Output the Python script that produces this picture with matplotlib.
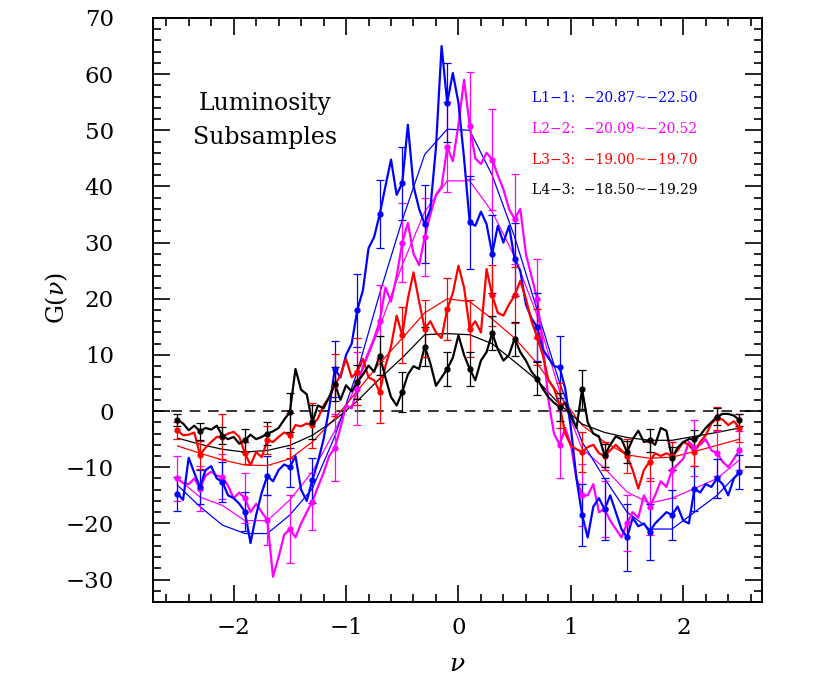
import numpy as np
import matplotlib
matplotlib.use("Agg")
import matplotlib.pyplot as plt
from matplotlib.ticker import MultipleLocator

plt.rcParams["font.family"] = ["DejaVu Serif"]
plt.rcParams["mathtext.fontset"] = "dejavuserif"

# genus thresholds (regular nu grid of the measurement) and error-bar grid
nu = np.round(np.arange(-2.50, 2.501, 0.05), 2)
nu_bar = np.round(np.arange(-2.50, 2.501, 0.20), 2)

g_l1 = [-14.7, -15.8, -8.3, -11.0, -13.5, -10.5, -9.8, -12.0, -12.6, -15.0,
        -15.5, -16.5, -17.9, -23.5, -18.5, -14.5, -11.5, -12.5, -10.5, -9.5,
        -10.0, -8.0, -14.0, -16.0, -12.3, -9.0, -5.0, 0.5, 7.5, 6.0,
        10.0, 12.0, 18.0, 21.5, 29.0, 31.0, 35.1, 40.0, 44.8, 38.5,
        40.6, 51.0, 40.1, 36.0, 33.3, 36.0, 47.0, 65.0, 54.9, 60.2,
        54.9, 45.0, 33.6, 33.0, 35.5, 33.3, 28.0, 33.0, 30.0, 33.0,
        27.0, 25.0, 19.0, 16.5, 15.0, 11.0, 9.5, 8.0, 7.8, 4.0,
        -3.0, -12.0, -18.5, -22.5, -17.0, -15.5, -17.5, -15.0, -18.0, -21.0,
        -22.5, -19.0, -20.5, -20.0, -21.5, -20.0, -19.0, -18.0, -18.5, -17.0,
        -19.5, -20.0, -13.8, -14.5, -13.0, -13.5, -12.0, -13.0, -15.0, -12.0,
        -10.9]
g_l2 = [-12.0, -12.8, -13.0, -12.0, -13.8, -11.5, -10.8, -11.5, -11.7, -13.3,
        -15.5, -14.5, -15.5, -18.0, -16.5, -18.0, -19.4, -29.5, -26.0, -22.0,
        -21.0, -22.5, -20.0, -18.0, -16.1, -13.5, -11.0, -8.0, -6.5, -3.0,
        1.0, 0.5, 4.0, 8.0, 10.5, 13.0, 16.0, 22.0, 19.5, 24.0,
        30.0, 33.5, 28.0, 26.0, 31.0, 35.0, 38.5, 40.0, 47.0, 44.5,
        51.0, 59.0, 50.8, 45.0, 44.0, 46.0, 44.8, 42.0, 39.5, 36.0,
        34.2, 36.0, 28.0, 24.0, 20.0, 12.0, 2.0, -4.0, -6.0, -3.0,
        -6.0, -12.0, -15.0, -15.0, -13.0, -18.0, -17.5, -19.5, -21.0, -22.5,
        -20.0, -18.0, -19.0, -15.0, -17.0, -15.0, -12.5, -13.5, -10.5, -9.5,
        -8.5, -5.5, -6.5, -6.0, -5.0, -7.0, -7.5, -9.0, -10.0, -8.5,
        -7.0]
g_l3 = [-3.4, -4.3, -4.2, -3.8, -7.8, -6.5, -5.5, -4.6, -4.6, -4.0,
        -3.7, -4.6, -7.5, -9.6, -7.3, -8.2, -5.2, -5.5, -4.6, -3.8,
        -4.3, -2.5, -2.7, -2.2, -2.5, -1.3, 1.0, 2.5, 4.6, 6.4,
        9.3, 6.0, 7.0, 9.3, 6.0, 5.5, 3.4, 8.0, 11.5, 17.0,
        13.5, 20.0, 24.7, 19.5, 14.7, 16.0, 14.0, 13.0, 18.2, 21.0,
        25.9, 22.0, 14.7, 16.0, 14.0, 25.3, 20.6, 17.5, 17.0, 19.0,
        20.6, 23.2, 20.0, 16.0, 13.2, 10.0, 5.5, 4.0, 1.0, -4.0,
        -6.1, -6.8, -7.3, -6.4, -6.0, -7.5, -8.0, -7.0, -6.0, -7.0,
        -8.0, -10.5, -13.8, -10.5, -9.0, -7.5, -8.0, -7.5, -8.0, -7.0,
        -5.5, -6.0, -7.3, -5.5, -4.3, -2.2, -1.3, -1.5, -2.5, -1.8,
        -3.0]
g_l4 = [-1.6, -2.2, -3.4, -2.6, -3.6, -3.0, -3.3, -2.6, -4.4, -5.0,
        -4.6, -5.8, -5.2, -4.2, -5.0, -4.6, -4.0, -3.6, -3.0, -1.5,
        -0.2, 7.5, 3.8, 3.0, -2.0, 1.0, 0.5, 2.5, 4.8, 2.0,
        4.6, 3.5, 5.2, 6.5, 8.1, 7.0, 9.9, 6.0, 2.5, 1.0,
        3.4, 6.5, 8.0, 7.5, 11.5, 8.5, 4.5, 6.0, 7.5, 9.5,
        13.5, 10.0, 7.5, 5.5, 9.0, 10.5, 13.9, 11.0, 9.0, 10.0,
        12.9, 10.5, 9.0, 7.0, 5.8, 4.0, 2.5, 1.5, 0.7, 1.5,
        -1.0, -3.0, 3.9, -2.0, -4.0, -4.5, -7.9, -6.0, -4.5, -5.0,
        -7.3, -5.0, -3.5, -5.5, -5.2, -6.0, -3.0, -3.5, -8.4, -6.5,
        -5.5, -5.0, -4.9, -4.3, -3.0, -2.0, -1.0, -0.5, -0.5, -0.8,
        -1.6]

err_l1 = [3.0, 3.0, 3.5, 3.5, 3.5, 3.5, 4.0, 5.0, 6.5, 6.0, 6.5, 7.0, 7.0,
          8.3, 7.0, 6.5, 6.0, 5.5, 5.5, 5.5, 6.0, 5.0, 4.5, 4.0, 3.5, 3.0]
err_l2 = [4.0, 4.0, 4.0, 4.5, 4.5, 6.0, 5.0, 6.0, 6.5, 6.5, 7.0, 7.0, 8.0,
          9.5, 9.0, 8.0, 7.0, 6.0, 5.5, 5.0, 5.0, 5.0, 5.0, 5.0, 4.0, 3.5]
err_l3 = [1.5, 2.5, 4.0, 2.0, 2.5, 4.0, 4.0, 5.5, 6.0, 5.5, 5.0, 5.0, 5.5,
          5.0, 5.5, 5.0, 5.0, 4.0, 3.5, 2.5, 3.0, 3.5, 2.5, 2.5, 2.0, 2.5]
err_l4 = [1.0, 1.5, 1.5, 2.0, 2.0, 3.5, 3.0, 3.0, 3.0, 3.5, 3.5, 3.5, 3.0,
          3.0, 3.0, 3.0, 3.0, 2.5, 3.5, 2.0, 2.0, 2.0, 2.0, 1.5, 1.5, 1.0]

# fitted Gaussian genus curves, read at the error-bar grid
fit_l1 = [-13.2, -17.0, -20.3, -21.8, -21.8, -18.5, -13.8, -4.5, 7.0, 21.0,
          34.0, 45.7, 50.2, 50.0, 42.0, 31.0, 18.0, 5.0, -5.5, -12.0,
          -18.0, -21.0, -21.0, -18.0, -15.0, -10.8]
fit_l2 = [-12.0, -15.3, -16.8, -19.5, -19.5, -15.8, -10.8, -3.5, 5.0, 15.0,
          26.0, 35.5, 41.0, 41.0, 35.5, 27.5, 17.0, 3.5, -6.7, -10.2,
          -14.4, -16.4, -15.5, -13.8, -12.0, -8.7]
fit_l3 = [-6.2, -7.5, -8.7, -9.6, -9.7, -8.5, -5.5, -1.3, 3.6, 8.5,
          13.0, 17.5, 20.0, 19.5, 16.4, 13.0, 8.5, 2.8, -2.5, -5.5,
          -7.8, -8.4, -8.2, -7.2, -6.1, -5.0]
fit_l4 = [-4.8, -5.9, -6.8, -7.3, -7.0, -6.1, -4.3, -1.6, 1.8, 5.8,
          9.5, 13.6, 13.8, 13.6, 12.0, 8.8, 5.5, 1.2, -2.3, -3.8,
          -4.7, -5.2, -5.2, -4.5, -3.8, -3.0]

labels = ["L1\u22121:  \u221220.87~\u221222.50",
          "L2\u22122:  \u221220.09~\u221220.52",
          "L3\u22123:  \u221219.00~\u221219.70",
          "L4\u22123:  \u221218.50~\u221219.29"]
colors = ["#0000ff", "#ff00ff", "#ff0000", "#000000"]

fig = plt.figure(figsize=(8.30, 6.92), dpi=100)
ax = fig.add_axes([0.184, 0.130, 0.734, 0.844])

series = [(g_l2, err_l2, fit_l2, colors[1]),
          (g_l1, err_l1, fit_l1, colors[0]),
          (g_l3, err_l3, fit_l3, colors[2]),
          (g_l4, err_l4, fit_l4, colors[3])]

ax.axhline(0, color="black", lw=1.1, ls=(0, (7, 5)), zorder=1)

for g, err, fit, c in series:
    g = np.asarray(g)
    idx = [int(round((v - nu[0]) / 0.05)) for v in nu_bar]
    ax.plot(nu, g, color=c, lw=1.6, zorder=3)
    ax.errorbar(nu_bar, g[idx], yerr=err, fmt="o", ms=3.5, color=c,
                ecolor=c, elinewidth=0.9, capsize=3, capthick=0.9, zorder=4)
    ax.plot(nu_bar, fit, color=c, lw=0.9, zorder=2)

ax.set_xlim(-2.72, 2.70)
ax.set_ylim(-34, 70)
ax.xaxis.set_major_locator(MultipleLocator(1))
ax.xaxis.set_minor_locator(MultipleLocator(0.2))
ax.yaxis.set_major_locator(MultipleLocator(10))
ax.yaxis.set_minor_locator(MultipleLocator(2))
ax.tick_params(which="both", direction="in", top=True, right=True,
               width=1.2, labelsize=16.5)
ax.tick_params(axis="y", which="major", pad=28)
ax.tick_params(axis="x", which="major", pad=11)
ax.tick_params(which="major", length=12)
ax.tick_params(which="minor", length=6)
for sp in ax.spines.values():
    sp.set_linewidth(1.4)

ax.set_xlabel(r"$\nu$", fontsize=18)
ax.set_ylabel(r"G($\nu$)", fontsize=17)
ax.xaxis.set_label_coords(0.5, -0.088)
ax.yaxis.set_label_coords(-0.135, 0.52)

ax.text(-1.72, 51.8, "Luminosity\nSubsamples", ha="center", va="center",
        fontsize=17, linespacing=1.6)

for k, (lab, c) in enumerate(zip(labels, colors)):
    ax.text(0.65, 55.8 - 5.5 * k, lab, color=c, fontsize=10,
            ha="left", va="center")

fig.savefig("out.png", dpi=100)
